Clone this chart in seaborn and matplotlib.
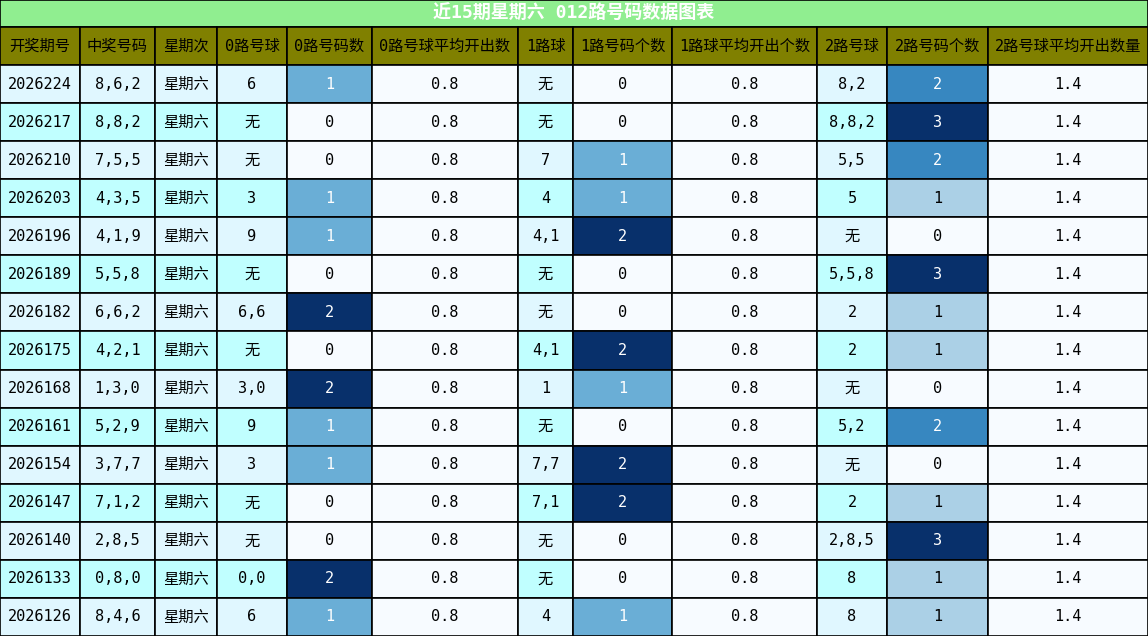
import matplotlib
matplotlib.use("Agg")
import matplotlib.pyplot as plt
from matplotlib.patches import Rectangle
import seaborn as sns

sns.set_theme(style="white")
plt.rcParams['font.family'] = ['DejaVu Sans Mono', 'Noto Sans CJK SC']

title = "近15期星期六 012路号码数据图表"
headers = ["开奖期号", "中奖号码", "星期次", "0路号球", "0路号码数", "0路号球平均开出数",
           "1路球", "1路号码个数", "1路球平均开出个数", "2路号球", "2路号码个数", "2路号球平均开出数量"]

periods = ["2026224", "2026217", "2026210", "2026203", "2026196", "2026189", "2026182", "2026175",
           "2026168", "2026161", "2026154", "2026147", "2026140", "2026133", "2026126"]
numbers = ["8,6,2", "8,8,2", "7,5,5", "4,3,5", "4,1,9", "5,5,8", "6,6,2", "4,2,1",
           "1,3,0", "5,2,9", "3,7,7", "7,1,2", "2,8,5", "0,8,0", "8,4,6"]
weekday = ["星期六"] * 15
road0 = ["6", "无", "无", "3", "9", "无", "6,6", "无", "3,0", "9", "3", "无", "无", "0,0", "6"]
cnt0 = [1, 0, 0, 1, 1, 0, 2, 0, 2, 1, 1, 0, 0, 2, 1]
avg0 = ["0.8"] * 15
road1 = ["无", "无", "7", "4", "4,1", "无", "无", "4,1", "1", "无", "7,7", "7,1", "无", "无", "4"]
cnt1 = [0, 0, 1, 1, 2, 0, 0, 2, 1, 0, 2, 2, 0, 0, 1]
avg1 = ["0.8"] * 15
road2 = ["8,2", "8,8,2", "5,5", "5", "无", "5,5,8", "2", "2", "无", "5,2", "无", "2", "2,8,5", "8", "8"]
cnt2 = [2, 3, 2, 1, 0, 3, 1, 1, 0, 2, 0, 1, 3, 1, 1]
avg2 = ["1.4"] * 15

columns = [periods, numbers, weekday, road0, cnt0, avg0, road1, cnt1, avg1, road2, cnt2, avg2]
edges = [0, 80, 155, 217, 287, 372, 518, 573, 672, 817, 887, 988, 1148]
count_cols = {4, 7, 10}
avg_cols = {5, 8, 11}

cmap = sns.color_palette("Blues", as_cmap=True)
W, H = 1148, 636
title_h, head_h = 27, 38
row_h = (H - title_h - head_h) / len(periods)

fig = plt.figure(figsize=(W / 100, H / 100), dpi=100)
ax = fig.add_axes([0, 0, 1, 1])
ax.set_xlim(0, W)
ax.set_ylim(H, 0)
ax.axis("off")

lw = 1.2
ax.add_patch(Rectangle((0, 0), W, title_h, facecolor="#90ee90", edgecolor="black", lw=lw))
ax.text(W / 2, title_h / 2, title, ha="center", va="center", color="white",
        fontsize=13, fontweight="bold")

for j, h in enumerate(headers):
    x0, x1 = edges[j], edges[j + 1]
    ax.add_patch(Rectangle((x0, title_h), x1 - x0, head_h, facecolor="#808000",
                           edgecolor="black", lw=lw))
    ax.text((x0 + x1) / 2, title_h + head_h / 2, h, ha="center", va="center",
            color="black", fontsize=11)

for j, col in enumerate(columns):
    x0, x1 = edges[j], edges[j + 1]
    vmax = max(col) if j in count_cols else 1
    for i, v in enumerate(col):
        y0 = title_h + head_h + i * row_h
        txt_color = "black"
        if j in count_cols:
            frac = v / vmax
            fc = cmap(frac)
            if frac >= 0.5:
                txt_color = "white"
        elif j in avg_cols:
            fc = cmap(0.0)
        else:
            fc = "#e0f7ff" if i % 2 == 0 else "#c0ffff"
        ax.add_patch(Rectangle((x0, y0), x1 - x0, row_h, facecolor=fc,
                               edgecolor="black", lw=lw))
        ax.text((x0 + x1) / 2, y0 + row_h / 2, str(v), ha="center", va="center",
                color=txt_color, fontsize=11)

fig.savefig("out.png", dpi=100)
